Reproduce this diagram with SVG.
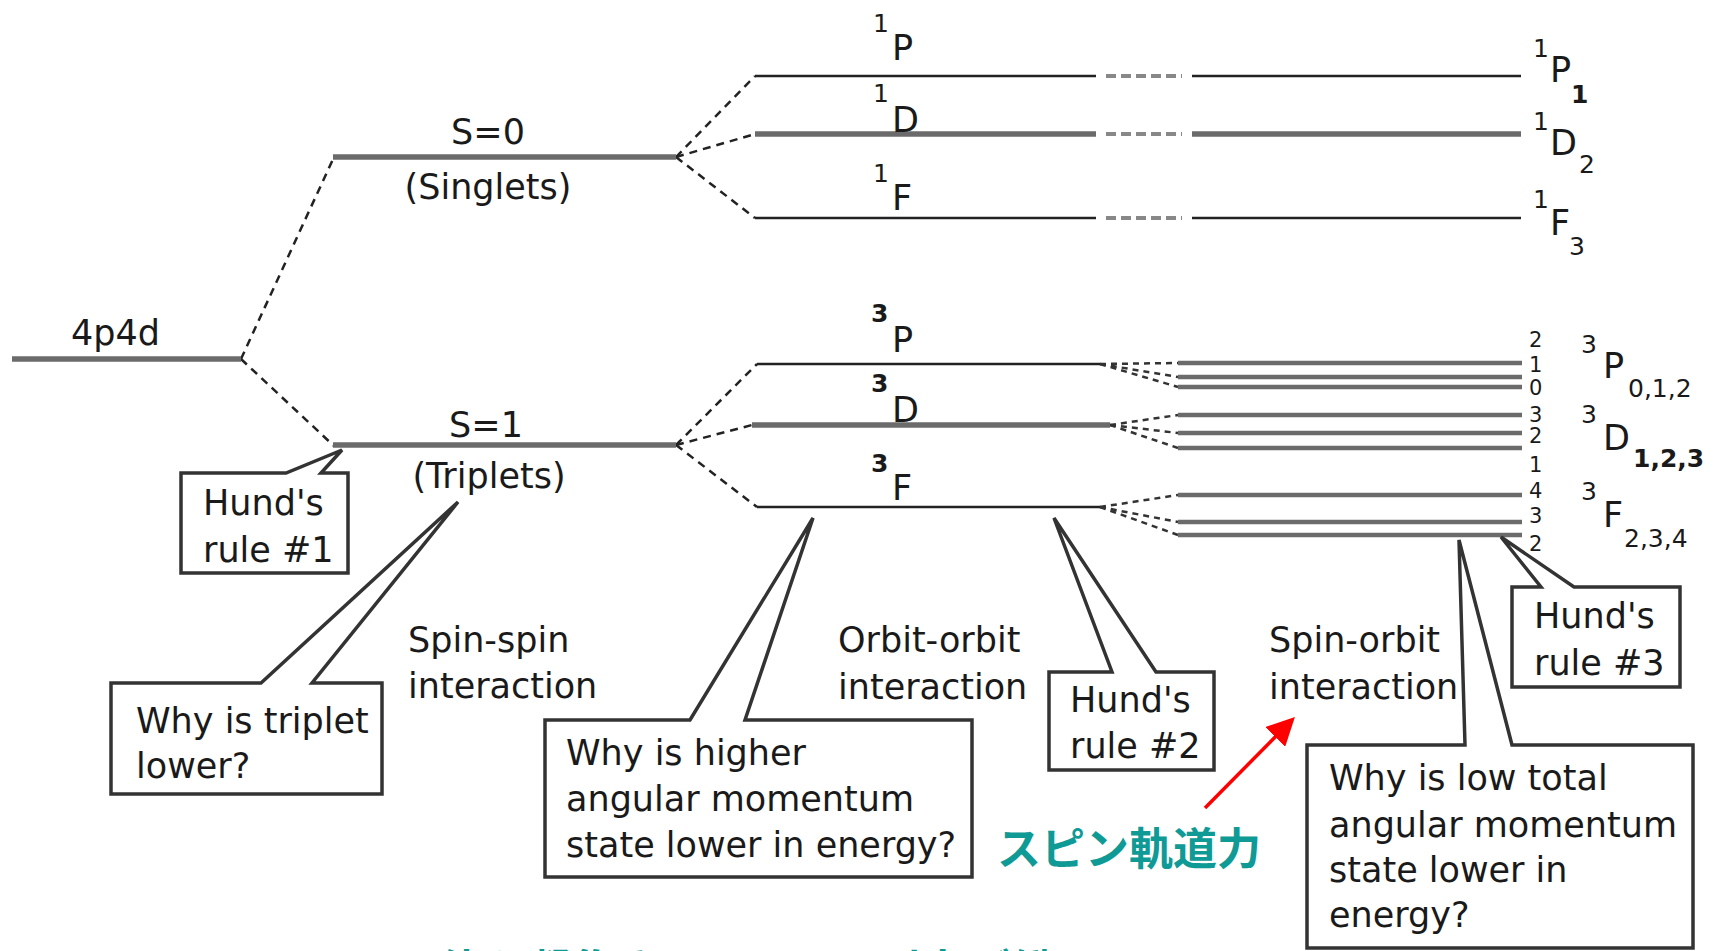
<svg xmlns="http://www.w3.org/2000/svg" width="1718" height="951" viewBox="0 0 1718 951">
<defs>
<style>
text{font-family:"DejaVu Sans","Liberation Sans",sans-serif;fill:#1a1a1a}
.t{font-size:35px}
.sup{font-size:25px}
.b{font-weight:bold}
.j{font-size:21px}
.thick{stroke:#6b6b6b;stroke-width:5.5;fill:none}
.thin{stroke:#222;stroke-width:2.5;fill:none}
.split{stroke:#6b6b6b;stroke-width:4.5;fill:none}
.dash{stroke:#222;stroke-width:2.5;stroke-dasharray:8 6;fill:none}
.sdash{stroke:#333;stroke-width:2.5;stroke-dasharray:6 5;fill:none}
.gap{stroke:#888;stroke-width:4;stroke-dasharray:10 5;fill:none}
.box{fill:#fff;stroke:#333;stroke-width:3.5;stroke-linejoin:miter}
.jp{font-family:"Noto Sans CJK JP",sans-serif;font-weight:bold;fill:#0f9a96;font-size:44px}
</style>
<marker id="ah" markerWidth="8" markerHeight="8" refX="6" refY="4" orient="auto" markerUnits="strokeWidth">
<path d="M0,0 L8,4 L0,8 Z" fill="#ff0000"/>
</marker>
</defs>
<rect width="1718" height="951" fill="#fff"/>

<g id="connectors">
<path class="dash" d="M241,359 L334,157"/>
<path class="dash" d="M241,359 L334,446"/>
<path class="dash" d="M676,157 L755,76"/>
<path class="dash" d="M676,157 L755,134"/>
<path class="dash" d="M676,157 L755,218"/>
<path class="dash" d="M676,445 L757,364"/>
<path class="dash" d="M676,445 L752,425"/>
<path class="dash" d="M676,445 L757,507"/>
<path class="sdash" d="M1100,364 L1178,363"/>
<path class="sdash" d="M1100,364 L1178,377"/>
<path class="sdash" d="M1100,364 L1178,387"/>
<path class="sdash" d="M1110,425 L1178,415"/>
<path class="sdash" d="M1110,425 L1178,433"/>
<path class="sdash" d="M1110,425 L1178,448"/>
<path class="sdash" d="M1100,507 L1178,495"/>
<path class="sdash" d="M1100,507 L1178,522"/>
<path class="sdash" d="M1100,507 L1178,535"/>
<line x1="1205" y1="808" x2="1290" y2="722" stroke="#ff0000" stroke-width="3.5" marker-end="url(#ah)"/>
</g>

<g id="config">
<line class="thick" x1="12" y1="359" x2="241" y2="359"/>
<text class="t" x="71" y="345">4p4d</text>
</g>

<g id="singlets">
<line class="thick" x1="333" y1="157" x2="676" y2="157"/>
<text class="t" x="488" y="144" text-anchor="middle">S=0</text>
<text class="t" x="488" y="199" text-anchor="middle">(Singlets)</text>
</g>

<g id="triplets">
<line class="thick" x1="333" y1="445" x2="676" y2="445"/>
<text class="t" x="486" y="437" text-anchor="middle">S=1</text>
<text class="t" x="489" y="488" text-anchor="middle">(Triplets)</text>
</g>

<g id="level-1P">
<line class="thin" x1="755" y1="76" x2="1096" y2="76"/>
<line class="gap" x1="1106" y1="76" x2="1182" y2="76"/>
<line class="thin" x1="1192" y1="76" x2="1521" y2="76"/>
<text class="sup" x="873" y="32">1</text>
<text class="t" x="892" y="60">P</text>
<text class="sup" x="1533" y="57">1</text>
<text class="t" x="1550" y="82">P</text>
<text class="sup b" x="1571" y="103">1</text>
</g>

<g id="level-1D">
<line class="thick" x1="755" y1="134" x2="1096" y2="134"/>
<line class="gap" x1="1106" y1="134" x2="1182" y2="134"/>
<line class="thick" x1="1192" y1="134" x2="1521" y2="134"/>
<text class="sup" x="873" y="102">1</text>
<text class="t" x="892" y="132">D</text>
<text class="sup" x="1533" y="130">1</text>
<text class="t" x="1550" y="155">D</text>
<text class="sup" x="1579" y="173">2</text>
</g>

<g id="level-1F">
<line class="thin" x1="755" y1="218" x2="1096" y2="218"/>
<line class="gap" x1="1106" y1="218" x2="1182" y2="218"/>
<line class="thin" x1="1192" y1="218" x2="1521" y2="218"/>
<text class="sup" x="873" y="182">1</text>
<text class="t" x="892" y="210">F</text>
<text class="sup" x="1533" y="208">1</text>
<text class="t" x="1550" y="235">F</text>
<text class="sup" x="1569" y="255">3</text>
</g>

<g id="level-3P">
<line class="thin" x1="757" y1="364" x2="1100" y2="364"/>
<text class="sup b" x="871" y="322">3</text>
<text class="t" x="892" y="352">P</text>
<line class="split" x1="1178" y1="363" x2="1522" y2="363" stroke-width="3.5"/>
<line class="split" x1="1178" y1="377" x2="1522" y2="377" stroke="#333"/>
<line class="split" x1="1178" y1="387" x2="1522" y2="387"/>
<text class="j" x="1529" y="347">2</text>
<text class="j" x="1529" y="372">1</text>
<text class="j" x="1529" y="395">0</text>
<text class="sup" x="1581" y="353">3</text>
<text class="t" x="1603" y="378">P</text>
<text class="sup" x="1628" y="397">0,1,2</text>
</g>

<g id="level-3D">
<line class="thick" x1="752" y1="425" x2="1110" y2="425"/>
<text class="sup b" x="871" y="392">3</text>
<text class="t" x="892" y="422">D</text>
<line class="split" x1="1178" y1="415" x2="1522" y2="415"/>
<line class="split" x1="1178" y1="433" x2="1522" y2="433"/>
<line class="split" x1="1178" y1="448" x2="1522" y2="448" stroke="#333" stroke-width="3"/>
<text class="j" x="1529" y="422">3</text>
<text class="j" x="1529" y="443">2</text>
<text class="j" x="1529" y="472">1</text>
<text class="sup" x="1581" y="423">3</text>
<text class="t" x="1603" y="450">D</text>
<text class="sup b" x="1633" y="467">1,2,3</text>
</g>

<g id="level-3F">
<line class="thin" x1="757" y1="507" x2="1100" y2="507"/>
<text class="sup b" x="871" y="472">3</text>
<text class="t" x="892" y="500">F</text>
<line class="split" x1="1178" y1="495" x2="1522" y2="495"/>
<line class="split" x1="1178" y1="522" x2="1522" y2="522" stroke-width="5.5"/>
<line class="split" x1="1178" y1="535" x2="1522" y2="535" stroke-width="3.5"/>
<text class="j" x="1529" y="498">4</text>
<text class="j" x="1529" y="523">3</text>
<text class="j" x="1529" y="551">2</text>
<text class="sup" x="1581" y="500">3</text>
<text class="t" x="1603" y="527">F</text>
<text class="sup" x="1624" y="547">2,3,4</text>
</g>

<g id="hund1">
<path class="box" d="M181,473 L286,473 L342,450 L321,473 L348,473 L348,573 L181,573 Z"/>
<text class="t" x="203" y="515">Hund's</text>
<text class="t" x="203" y="562">rule #1</text>
</g>

<g id="why-triplet">
<path class="box" d="M111,683 L261,683 L458,502 L312,683 L382,683 L382,794 L111,794 Z"/>
<text class="t" x="136" y="733">Why is triplet</text>
<text class="t" x="136" y="778">lower?</text>
</g>

<g id="spin-spin">
<text class="t" x="408" y="652">Spin-spin</text>
<text class="t" x="408" y="698">interaction</text>
</g>

<g id="why-higher">
<path class="box" d="M545,720 L690,720 L813,518 L745,720 L972,720 L972,877 L545,877 Z"/>
<text class="t" x="566" y="765">Why is higher</text>
<text class="t" x="566" y="811">angular momentum</text>
<text class="t" x="566" y="857">state lower in energy?</text>
</g>

<g id="orbit-orbit">
<text class="t" x="838" y="652">Orbit-orbit</text>
<text class="t" x="838" y="699">interaction</text>
</g>

<g id="hund2">
<path class="box" d="M1049,672 L1112,672 L1054,518 L1156,672 L1214,672 L1214,770 L1049,770 Z"/>
<text class="t" x="1070" y="712">Hund's</text>
<text class="t" x="1070" y="758">rule #2</text>
</g>

<g id="spin-orbit">
<text class="t" x="1269" y="652">Spin-orbit</text>
<text class="t" x="1269" y="699">interaction</text>
</g>

<g id="hund3">
<path class="box" d="M1512,587 L1541,587 L1501,537 L1574,587 L1680,587 L1680,687 L1512,687 Z"/>
<text class="t" x="1534" y="628">Hund's</text>
<text class="t" x="1534" y="675">rule #3</text>
</g>

<g id="why-low">
<path class="box" d="M1307,745 L1465,745 L1459,540 L1512,745 L1693,745 L1693,948 L1307,948 Z"/>
<text class="t" x="1329" y="790">Why is low total</text>
<text class="t" x="1329" y="837">angular momentum</text>
<text class="t" x="1329" y="882">state lower in</text>
<text class="t" x="1329" y="927">energy?</text>
</g>

<g id="jp-label">
<text class="jp" x="997" y="865">スピン軌道力</text>
</g>

<g id="jp-bottom">
<text class="jp" x="131" y="987">原子間には、固体を凝集させるだけの引力が働いている</text>
</g>
</svg>
